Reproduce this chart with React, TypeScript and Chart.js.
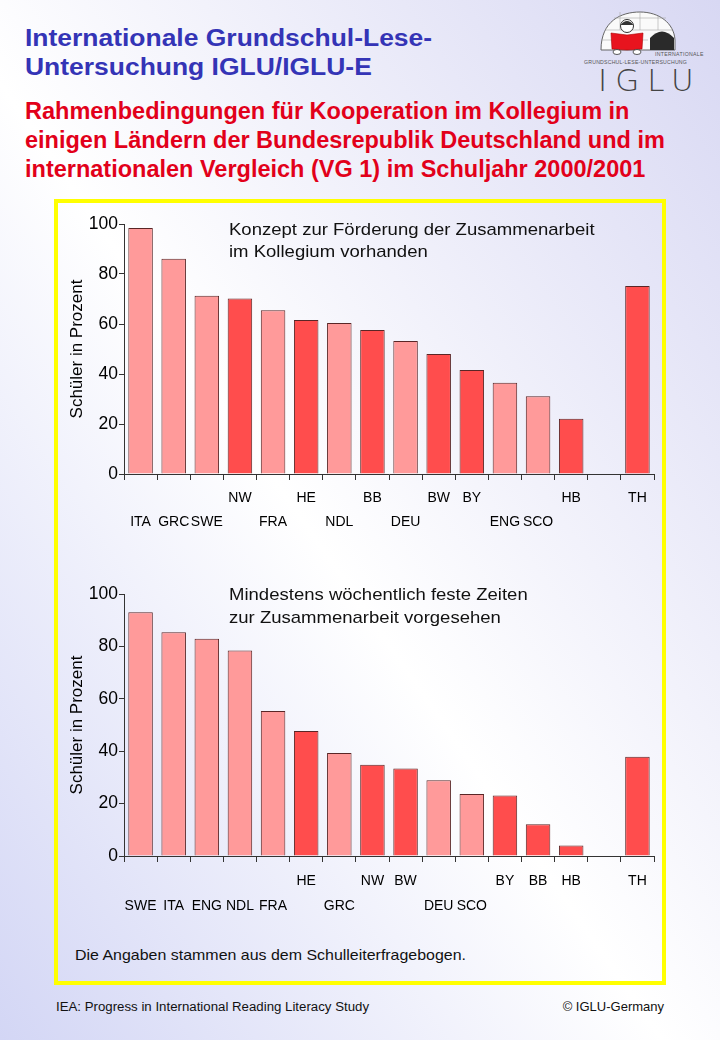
import React, { useEffect, useRef } from "react";
import { Chart, registerables } from "chart.js";

Chart.register(...registerables);

const FONT = '"Liberation Sans", Arial, Helvetica, sans-serif';

// ---- Data: chart 1 (Konzept zur Förderung der Zusammenarbeit) ----
const states1 = ["", "", "", "NW", "", "HE", "", "BB", "", "BW", "BY", "", "", "HB", "", "TH"];
const countries1 = ["ITA", "GRC", "SWE", "", "FRA", "", "NDL", "", "DEU", "", "", "ENG", "SCO", "", "", ""];
const values1 = [98.4, 86.1, 71.3, 70.2, 65.5, 61.6, 60.4, 57.6, 53.2, 48.0, 41.6, 36.5, 31.1, 22.1, null, 75.2];

// ---- Data: chart 2 (Mindestens wöchentlich feste Zeiten) ----
const states2 = ["", "", "", "", "", "HE", "", "NW", "BW", "", "", "BY", "BB", "HB", "", "TH"];
const countries2 = ["SWE", "ITA", "ENG", "NDL", "FRA", "", "GRC", "", "", "DEU", "SCO", "", "", "", "", ""];
const values2 = [93.0, 85.4, 82.9, 78.4, 55.3, 47.7, 39.3, 34.8, 33.4, 28.9, 23.7, 23.1, 12.1, 4.0, null, 37.9];

const yMin = 0;
const yMax = 100;
const yStep = 20;
const yAxisTitle = "Schüler in Prozent";

const LIGHT = "#FF9A9A";
const DARK = "#FF4D4D";
const EDGE = "#5A2626";
const AXIS = "#333333";

type PanelProps = {
  states: string[];
  countries: string[];
  values: (number | null)[];
  left: number;
  top: number;
  width: number;
  height: number;
  lineH: number;
  labelPad: number;
};

function BarPanel(p: PanelProps) {
  const ref = useRef<HTMLCanvasElement>(null);
  useEffect(() => {
    if (!ref.current) return;
    const labels = p.states.map((s, i) => [s, p.countries[i]]);
    const colors = p.states.map((s) => (s ? DARK : LIGHT));
    const chart = new Chart(ref.current, {
      type: "bar",
      data: {
        labels,
        datasets: [
          {
            data: p.values,
            backgroundColor: colors,
            borderColor: EDGE,
            borderWidth: 1,
            borderSkipped: "bottom",
            barPercentage: 0.74,
            categoryPercentage: 1,
          },
        ],
      },
      options: {
        animation: false,
        responsive: false,
        maintainAspectRatio: false,
        layout: { padding: { top: 14, right: 6, left: 0, bottom: 0 } },
        plugins: { legend: { display: false }, tooltip: { enabled: false }, title: { display: false } },
        scales: {
          x: {
            offset: true,
            grid: {
              offset: true,
              drawOnChartArea: false,
              drawTicks: true,
              tickLength: 6,
              color: AXIS,
            },
            border: { display: true, color: AXIS, width: 1 },
            ticks: {
              autoSkip: false,
              maxRotation: 0,
              minRotation: 0,
              color: "#000",
              padding: p.labelPad,
              font: { family: FONT, size: 14, lineHeight: p.lineH + "px" },
            },
            afterFit: (s: any) => {
              s.height = 66;
            },
          },
          y: {
            min: yMin,
            max: yMax,
            ticks: {
              stepSize: yStep,
              color: "#000",
              padding: 1,
              font: { family: FONT, size: 17.5 },
            },
            grid: { drawOnChartArea: false, tickLength: 5, color: AXIS },
            border: { display: true, color: AXIS, width: 1 },
            title: {
              display: true,
              text: yAxisTitle,
              color: "#000",
              font: { family: FONT, size: 17 },
              padding: { top: 7, bottom: 0 },
            },
            afterFit: (s: any) => {
              s.width = 64;
            },
          },
        },
      },
    });
    return () => chart.destroy();
  }, []);
  return (
    <canvas
      ref={ref}
      width={p.width}
      height={p.height}
      style={{ position: "absolute", left: p.left, top: p.top, width: p.width, height: p.height }}
    />
  );
}

function Logo() {
  return (
    <svg
      width={135}
      height={92}
      viewBox="580 5 135 92"
      style={{ position: "absolute", left: 580, top: 5 }}
    >
      <path d="M601,50 C601,21 621,12 640,12 C659,12 674,23 675,40 L675,50 Z" fill="#FAFAFA" stroke="#666" strokeWidth={1} />
      <path d="M605,30 L672,30 M602,40 L648,40 M614,18 L666,18 M620,12 L620,30 M640,12 L640,30 M658,16 L658,30" stroke="#AAA" strokeWidth={0.6} fill="none" />
      <path d="M650,50 L650,38 Q662,25 674,38 L674,50 Z" fill="#2A2A2A" />
      <circle cx={627} cy={26} r={6.5} fill="#FFF" stroke="#333" strokeWidth={1} />
      <path d="M620.5,25 Q627,17 633.5,25" fill="#333" />
      <path d="M611,33 L627,35 L643,33 L642,49 L627,50 L612,49 Z" fill="#E8141E" stroke="#A00" strokeWidth={0.6} />
      <ellipse cx={617} cy={52} rx={4} ry={2.5} fill="#FFF" stroke="#333" strokeWidth={0.8} />
      <ellipse cx={637} cy={52} rx={4} ry={2.5} fill="#FFF" stroke="#333" strokeWidth={0.8} />
      <text x={655} y={56} fontSize={5.2} fill="#555" fontFamily={FONT} letterSpacing={0.3}>INTERNATIONALE</text>
      <text x={584} y={64} fontSize={5.2} fill="#555" fontFamily={FONT} letterSpacing={0.2}>GRUNDSCHUL-LESE-UNTERSUCHUNG</text>
      <text x={598} y={91} fontSize={31} fill="#444" fontFamily='"DejaVu Sans", sans-serif' fontWeight={200} letterSpacing={8}>IGLU</text>
    </svg>
  );
}

export default function App() {
  const textBase: React.CSSProperties = {
    position: "absolute",
    whiteSpace: "nowrap",
    margin: 0,
    transformOrigin: "0 0",
  };
  return (
    <div
      style={{
        position: "absolute",
        left: 0,
        top: 0,
        width: 720,
        height: 1040,
        overflow: "hidden",
        fontFamily: FONT,
        background: "linear-gradient(to top right, #D3D6F5 0%, #FFFFFF 46%, #D8D8F3 100%)",
      }}
    >
      <div
        style={{
          ...textBase,
          left: 25,
          top: 24,
          fontSize: 23,
          lineHeight: "29px",
          fontWeight: "bold",
          color: "#3434B6",
          transform: "scaleX(1.15)",
        }}
      >
        Internationale Grundschul-Lese-
        <br />
        Untersuchung IGLU/IGLU-E
      </div>
      <Logo />
      <div
        style={{
          ...textBase,
          left: 25,
          top: 97,
          fontSize: 23.5,
          lineHeight: "29px",
          fontWeight: "bold",
          color: "#E2001A",
        }}
      >
        Rahmenbedingungen für Kooperation im Kollegium in
        <br />
        einigen Ländern der Bundesrepublik Deutschland und im
        <br />
        internationalen Vergleich (VG 1) im Schuljahr 2000/2001
      </div>

      <div
        style={{
          position: "absolute",
          left: 54,
          top: 199,
          width: 612,
          height: 786,
          boxSizing: "border-box",
          border: "4px solid #FFFF00",
        }}
      />

      <BarPanel
        states={states1}
        countries={countries1}
        values={values1}
        left={60}
        top={210}
        width={600}
        height={330}
        lineH={24}
        labelPad={6}
      />
      <div
        style={{ ...textBase, left: 229, top: 219, fontSize: 17, lineHeight: "22px", color: "#111", transform: "scaleX(1.09)" }}
      >
        Konzept zur Förderung der Zusammenarbeit
        <br />
        im Kollegium vorhanden
      </div>

      <BarPanel
        states={states2}
        countries={countries2}
        values={values2}
        left={60}
        top={580}
        width={600}
        height={342}
        lineH={25}
        labelPad={7}
      />
      <div
        style={{ ...textBase, left: 229, top: 583, fontSize: 17, lineHeight: "23px", color: "#111", transform: "scaleX(1.09)" }}
      >
        Mindestens wöchentlich feste Zeiten
        <br />
        zur Zusammenarbeit vorgesehen
      </div>

      <div
        style={{ ...textBase, left: 75, top: 946, fontSize: 14.5, lineHeight: "18px", color: "#111", transform: "scaleX(1.1)" }}
      >
        Die Angaben stammen aus dem Schulleiterfragebogen.
      </div>

      <div
        style={{ ...textBase, left: 56, top: 999, fontSize: 12.5, lineHeight: "16px", color: "#111", transform: "scaleX(1.06)" }}
      >
        IEA: Progress in International Reading Literacy Study
      </div>
      <div style={{ ...textBase, right: 720 - 664, top: 999, fontSize: 13, lineHeight: "16px", color: "#111" }}>
        © IGLU-Germany
      </div>
    </div>
  );
}
